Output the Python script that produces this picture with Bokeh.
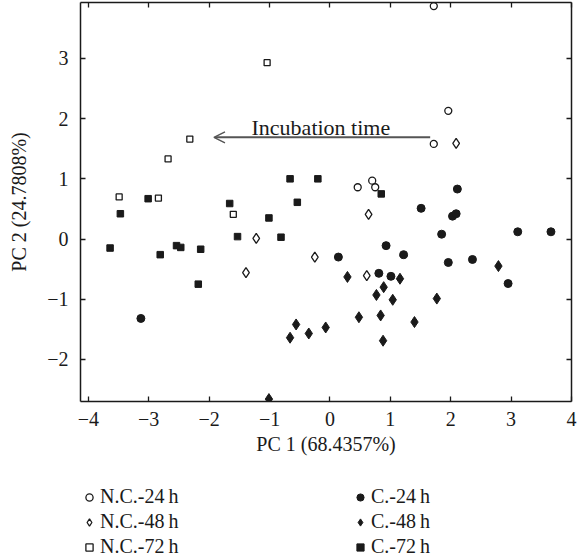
from bokeh.plotting import figure
from bokeh.layouts import column
from bokeh.models import (LinearAxis, Range1d, Legend, LegendItem, Arrow, OpenHead,
                          Label, FixedTicker, CustomLabelingPolicy)
from bokeh.embed import file_html
from bokeh.resources import INLINE

# ---- data ----
nc24_x = [1.72, 1.96, 1.72, 0.46, 0.70, 0.75]
nc24_y = [3.87, 2.13, 1.58, 0.86, 0.97, 0.86]
nc48_x = [2.09, 0.64, -1.22, -1.39, -0.25, 0.61]
nc48_y = [1.59, 0.41, 0.01, -0.56, -0.30, -0.61]
nc72_x = [-1.04, -2.32, -2.68, -3.49, -2.84, -1.60]
nc72_y = [2.93, 1.66, 1.33, 0.70, 0.68, 0.41]
c24_x = [2.11, 1.51, 2.03, 2.09, 1.85, 3.11, 3.66, 0.93, 1.22, 0.14, 1.96, 2.36, 2.95, 0.81, 1.01, -3.13]
c24_y = [0.83, 0.51, 0.38, 0.42, 0.08, 0.12, 0.12, -0.11, -0.26, -0.30, -0.39, -0.34, -0.74, -0.57, -0.62, -1.32]
c48_x = [2.79, 0.29, 1.16, 0.89, 0.77, 1.04, 1.77, 0.48, 0.84, 1.40, -0.07, -0.35, 0.88, -0.56, -0.66, -1.01]
c48_y = [-0.45, -0.63, -0.66, -0.80, -0.93, -1.01, -0.99, -1.30, -1.27, -1.38, -1.47, -1.57, -1.69, -1.42, -1.64, -2.66]
c72_x = [-0.66, -0.20, -3.01, -3.47, -3.64, -2.81, -2.54, -2.47, -2.14, -2.18, -1.66, -1.53, -1.01, -0.54, -0.81, 0.85]
c72_y = [1.00, 1.00, 0.67, 0.42, -0.15, -0.26, -0.11, -0.14, -0.17, -0.75, 0.59, 0.04, 0.35, 0.61, 0.03, 0.75]

series_labels = ["N.C.-24\u2009h", "N.C.-48\u2009h", "N.C.-72\u2009h",
                 "C.-24\u2009h", "C.-48\u2009h", "C.-72\u2009h"]

x_ticks = [-4, -3, -2, -1, 0, 1, 2, 3, 4]
x_tick_labels = ["\u22124", "\u22123", "\u22122", "\u22121", "0", "1", "2", "3", "4"]
y_ticks = [-2, -1, 0, 1, 2, 3]
y_tick_labels = ["\u22122", "\u22121", "0", "1", "2", "3"]

x_title = "PC 1 (68.4357%)"
y_title = "PC 2 (24.7808%)"
arrow_text = "Incubation time"

FONT = "Liberation Serif"
INK = "#1a1a1a"

p = figure(width=579, height=463, output_backend="svg", toolbar_location=None,
           x_range=Range1d(-4.13, 4.0), y_range=Range1d(-2.70, 3.93),
           min_border_left=80, min_border_right=8, min_border_top=2,
           min_border_bottom=62, x_axis_location=None, y_axis_location=None)
p.grid.visible = False
p.outline_line_color = None
p.background_fill_color = "white"
p.border_fill_color = "white"

no_labels = CustomLabelingPolicy(code="return new Set()")


def style_axis(ax, ticks, labels, show_labels, title=None):
    ax.ticker = FixedTicker(ticks=ticks)
    if show_labels:
        ax.major_label_overrides = {t: l for t, l in zip(ticks, labels)}
        ax.major_label_text_font_size = "20px"
        ax.major_label_standoff = 10
    else:
        ax.major_label_policy = no_labels
        ax.major_label_text_font_size = "0px"
        ax.major_label_standoff = 0
    ax.axis_line_color = INK
    ax.axis_line_width = 1.5
    ax.major_tick_line_color = INK
    ax.major_tick_line_width = 1.3
    ax.major_tick_in = 5
    ax.major_tick_out = 0
    ax.minor_tick_line_color = None
    ax.major_label_text_font = FONT
    ax.major_label_text_color = INK
    if title:
        ax.axis_label = title
        ax.axis_label_text_font = FONT
        ax.axis_label_text_font_size = "20px"
        ax.axis_label_text_font_style = "normal"
        ax.axis_label_text_color = INK


xb = LinearAxis()
style_axis(xb, x_ticks, x_tick_labels, True, x_title)
xb.axis_label_standoff = 4
p.add_layout(xb, "below")
xt = LinearAxis()
style_axis(xt, x_ticks, x_tick_labels, False)
p.add_layout(xt, "above")
yl = LinearAxis()
style_axis(yl, y_ticks, y_tick_labels, True, y_title)
yl.major_label_standoff = 12
yl.axis_label_standoff = 14
p.add_layout(yl, "left")
yr = LinearAxis()
style_axis(yr, y_ticks, y_tick_labels, False)
p.add_layout(yr, "right")

styles = [
    dict(marker="circle", size=7, fill_color=None, line_color=INK, line_width=1.3),
    dict(marker="diamond", size=10, fill_color=None, line_color=INK, line_width=1.3),
    dict(marker="square", size=6, fill_color=None, line_color=INK, line_width=1.3),
    dict(marker="circle", size=8, fill_color=INK, line_color=INK, line_width=1),
    dict(marker="diamond", size=11, fill_color=INK, line_color=INK, line_width=1),
    dict(marker="square", size=6.5, fill_color=INK, line_color=INK, line_width=1),
]
series_x = [nc24_x, nc48_x, nc72_x, c24_x, c48_x, c72_x]
series_y = [nc24_y, nc48_y, nc72_y, c24_y, c48_y, c72_y]
for xs, ys, st in zip(series_x, series_y, styles):
    p.scatter(xs, ys, **st)

p.add_layout(Arrow(end=OpenHead(size=11, line_color="#555555", line_width=1.5),
                   x_start=1.66, y_start=1.69, x_end=-1.92, y_end=1.69,
                   line_color="#555555", line_width=2))
p.add_layout(Label(x=-0.15, y=1.85, text=arrow_text, text_align="center",
                   text_baseline="alphabetic", text_font=FONT,
                   text_font_size="22px", text_color=INK))

# ---- legend panel (separate figure below the plot) ----
lg = figure(width=579, height=97, output_backend="svg", toolbar_location=None,
            x_range=Range1d(-4.13, 4.0), y_range=Range1d(-2.70, 3.93),
            min_border_left=0, min_border_right=0, min_border_top=0,
            min_border_bottom=0, x_axis_location=None, y_axis_location=None)
lg.grid.visible = False
lg.outline_line_color = None
lg.border_fill_color = "white"
legend_renderers = []
for xs, ys, st in zip(series_x, series_y, styles):
    r = lg.scatter(xs, ys, **st)
    r.visible = False
    legend_renderers.append(r)
items = [LegendItem(label=lab, renderers=[r]) for lab, r in zip(series_labels, legend_renderers)]
legend = Legend(items=items, nrows=3, orientation="vertical",
                location=(0, 2), glyph_width=18, glyph_height=20,
                label_height=20, label_width=249, label_standoff=2, spacing=2,
                padding=0, margin=0, border_line_color=None, click_policy="none",
                background_fill_alpha=0, label_text_font=FONT,
                label_text_font_size="20px", label_text_color=INK)
lg.add_layout(legend, "center")

layout = column(p, lg, spacing=0)
open("out.html", "w").write(file_html(layout, INLINE))
